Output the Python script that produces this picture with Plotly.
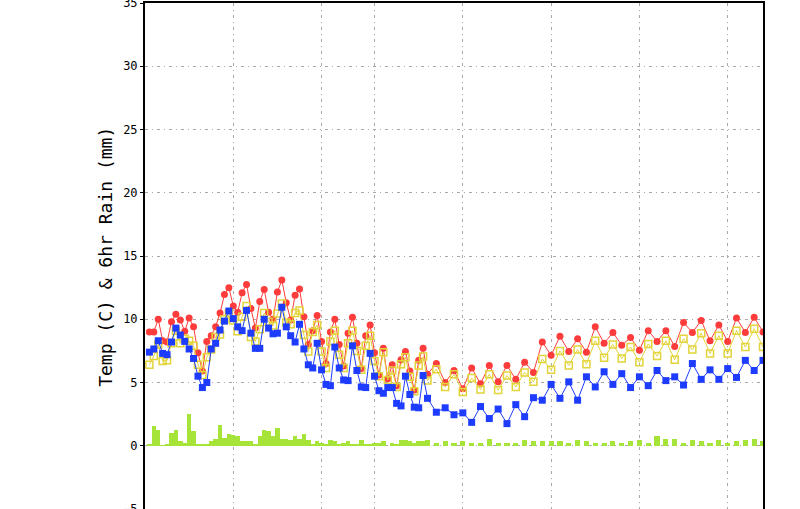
import plotly.graph_objects as go

# forecast hours: 6-hourly to 378 h, then 12-hourly to 834 h
hours = list(range(0, 384, 6)) + list(range(390, 835, 12))

# red line (circles)
temp_max = [
    9.0, 9.0, 10.0, 8.3, 8.2, 9.8, 10.4, 9.95, 9.05, 10.1,
    9.4, 7.35, 5.9, 8.25, 8.7, 9.4, 10.5, 11.95, 12.5, 11.05,
    10.55, 12.1, 12.75, 10.85, 9.3, 11.4, 12.35, 10.55, 10.0, 12.15,
    13.1, 11.3, 9.95, 11.9, 12.4, 10.2, 8.0, 9.1, 10.3, 8.25,
    6.5, 9.0, 10.0, 8.0, 6.3, 8.9, 10.15, 8.1, 6.1, 8.7,
    9.55, 7.35, 5.6, 7.7, 5.3, 6.4, 4.75, 6.8, 7.45, 5.9,
    4.4, 6.75, 7.7, 5.65,
    6.5, 5.0, 5.95, 4.5, 6.15, 4.9, 6.35, 5.05, 6.35, 5.25, 6.6, 5.8,
    8.2, 7.15, 8.65, 7.45, 8.45, 7.4, 9.4, 8.1, 8.95, 7.95, 8.55, 7.55,
    9.1, 8.25, 9.1, 7.85, 9.75, 8.95, 9.9, 8.3, 9.55, 8.25, 10.1, 8.95,
    10.15, 9.0,
]

# yellow line (open squares)
temp_mean = [
    6.4, 7.1, 8.0, 6.7, 6.75, 8.1, 9.1, 8.1, 8.45, 8.3,
    7.9, 6.4, 5.6, 7.0, 7.6, 8.6, 8.8, 10.0, 10.5, 9.9,
    9.05, 10.2, 11.05, 8.6, 8.25, 9.2, 10.5, 9.8, 9.5, 10.45,
    11.25, 9.75, 9.6, 10.5, 10.7, 8.75, 7.45, 9.0, 9.55, 7.45,
    6.15, 8.25, 9.1, 7.2, 6.15, 8.1, 9.1, 7.5, 6.0, 7.9,
    8.7, 6.7, 5.5, 7.4, 5.2, 5.95, 4.65, 6.45, 7.0, 5.45,
    4.3, 6.35, 7.05, 5.15,
    6.05, 4.65, 5.65, 4.25, 5.35, 4.45, 5.65, 4.4, 5.55, 4.65, 5.8, 5.05,
    6.85, 6.0, 7.5, 6.35, 7.6, 6.45, 8.3, 6.95, 8.0, 6.9, 7.8, 6.6,
    8.05, 7.1, 8.3, 6.8, 8.45, 7.6, 8.9, 7.3, 8.7, 7.3, 9.1, 7.8,
    9.25, 7.8,
]

# blue line (filled squares)
temp_min = [
    7.4, 7.65, 8.3, 7.3, 7.2, 8.2, 9.3, 8.75, 8.25, 7.65,
    6.9, 5.5, 4.6, 5.0, 7.65, 8.1, 9.15, 9.85, 10.65, 10.05,
    9.4, 9.1, 10.7, 8.9, 7.7, 7.7, 10.0, 9.3, 8.85, 8.9,
    10.95, 9.4, 8.7, 8.2, 9.6, 7.65, 6.4, 6.15, 8.1, 6.0,
    4.85, 4.75, 7.8, 6.15, 5.2, 5.15, 7.9, 5.95, 4.65, 4.6,
    7.3, 5.5, 4.35, 4.15, 4.6, 4.6, 3.35, 3.15, 5.5, 4.05,
    3.05, 3.0, 5.55, 3.75,
    2.65, 3.0, 2.45, 2.6, 1.85, 3.1, 2.15, 2.9, 1.75, 3.25, 2.3, 3.8,
    3.6, 4.85, 3.75, 5.05, 3.6, 5.45, 4.65, 5.85, 4.85, 5.7, 4.6, 5.45,
    4.75, 5.95, 5.15, 5.45, 4.8, 6.5, 5.25, 6.0, 5.25, 6.1, 5.4, 6.75,
    5.95, 6.75,
]

# 6hr rain (mm)
rain_6h = [
    0.15, 1.58, 1.26, 0.05, 0.15, 1.03, 1.26, 0.4, 0.2, 2.53,
    1.18, 0.15, 0.08, 0.08, 0.4, 0.55, 1.66, 0.63, 0.95, 0.87,
    0.79, 0.4, 0.4, 0.4, 0.15, 0.79, 1.26, 1.18, 0.79, 1.42,
    0.5, 0.55, 0.47, 0.79, 0.55, 0.95, 0.47, 0.15, 0.4, 0.24,
    0.15, 0.47, 0.4, 0.08, 0.24, 0.4, 0.15, 0.15, 0.47, 0.15,
    0.15, 0.24, 0.24, 0.4, 0.0, 0.24, 0.15, 0.47, 0.47, 0.4,
    0.24, 0.4, 0.4, 0.47,
    0.24, 0.4, 0.22, 0.39, 0.21, 0.21, 0.55, 0.21, 0.21, 0.21, 0.47, 0.39,
    0.39, 0.39, 0.39, 0.21, 0.47, 0.39, 0.21, 0.21, 0.39, 0.21, 0.39, 0.47,
    0.21, 0.79, 0.55, 0.55, 0.21, 0.47, 0.39, 0.21, 0.47, 0.21, 0.39, 0.47,
    0.55, 0.39,
]

# vertical grid lines (forecast hour)
grid_hours = [114, 234, 306, 426, 546, 666, 786]
y_ticks = [-5, 0, 5, 10, 15, 20, 25, 30, 35]

bar_w = [6 if h < 384 else 7 for h in hours]

fig = go.Figure()

fig.add_trace(go.Bar(
    x=hours, y=rain_6h, width=bar_w,
    marker=dict(color='#a6e43a', line=dict(width=0)),
))

fig.add_trace(go.Scatter(
    x=hours, y=temp_max, mode='lines+markers',
    line=dict(color='#ff3c3c', width=1),
    marker=dict(symbol='circle', size=7, color='#ff3c3c'),
))

fig.add_trace(go.Scatter(
    x=hours, y=temp_mean, mode='lines+markers',
    line=dict(color='#e2d43a', width=1),
    marker=dict(symbol='square-open', size=7, color='#e2d43a',
                line=dict(width=1.5, color='#e2d43a')),
))

fig.add_trace(go.Scatter(
    x=hours, y=temp_min, mode='lines+markers',
    line=dict(color='#1e3cff', width=1),
    marker=dict(symbol='square', size=7, color='#1e3cff'),
))

fig.add_annotation(
    text='Temp (C) & 6hr Rain (mm)',
    xref='paper', yref='paper', x=-0.065, y=0.498,
    xanchor='center', yanchor='middle', textangle=-90, showarrow=False,
    font=dict(family='DejaVu Sans Mono', size=18, color='black'),
)

fig.update_layout(
    width=800, height=509,
    margin=dict(l=145, r=37, t=3, b=0),
    paper_bgcolor='white',
    plot_bgcolor='white',
    showlegend=False,
    bargap=0,
)

fig.update_xaxes(
    range=[-6, 834],
    side='top',
    showline=True, linewidth=2, linecolor='black',
    tickvals=grid_hours, showticklabels=False, ticks='',
    showgrid=True, gridcolor='#a8a8a8', gridwidth=1, griddash='3px,4px,1px,4px',
    zeroline=False,
    automargin=False,
)

fig.update_yaxes(
    range=[-5, 35],
    tickvals=y_ticks,
    ticks='outside', ticklen=3, tickwidth=1, tickcolor='black',
    tickfont=dict(family='DejaVu Sans Mono', size=12, color='black'),
    ticklabeloverflow='allow',
    showline=True, mirror=True, linewidth=2, linecolor='black',
    showgrid=True, gridcolor='#a8a8a8', gridwidth=1, griddash='3px,4px,1px,4px',
    zeroline=False,
    automargin=False,
)

# page body has a default margin; drop it so the figure sits at the corner
fig.write_html(
    "out.html",
    config={'displayModeBar': False},
    post_script="document.body.style.margin='0';",
)
